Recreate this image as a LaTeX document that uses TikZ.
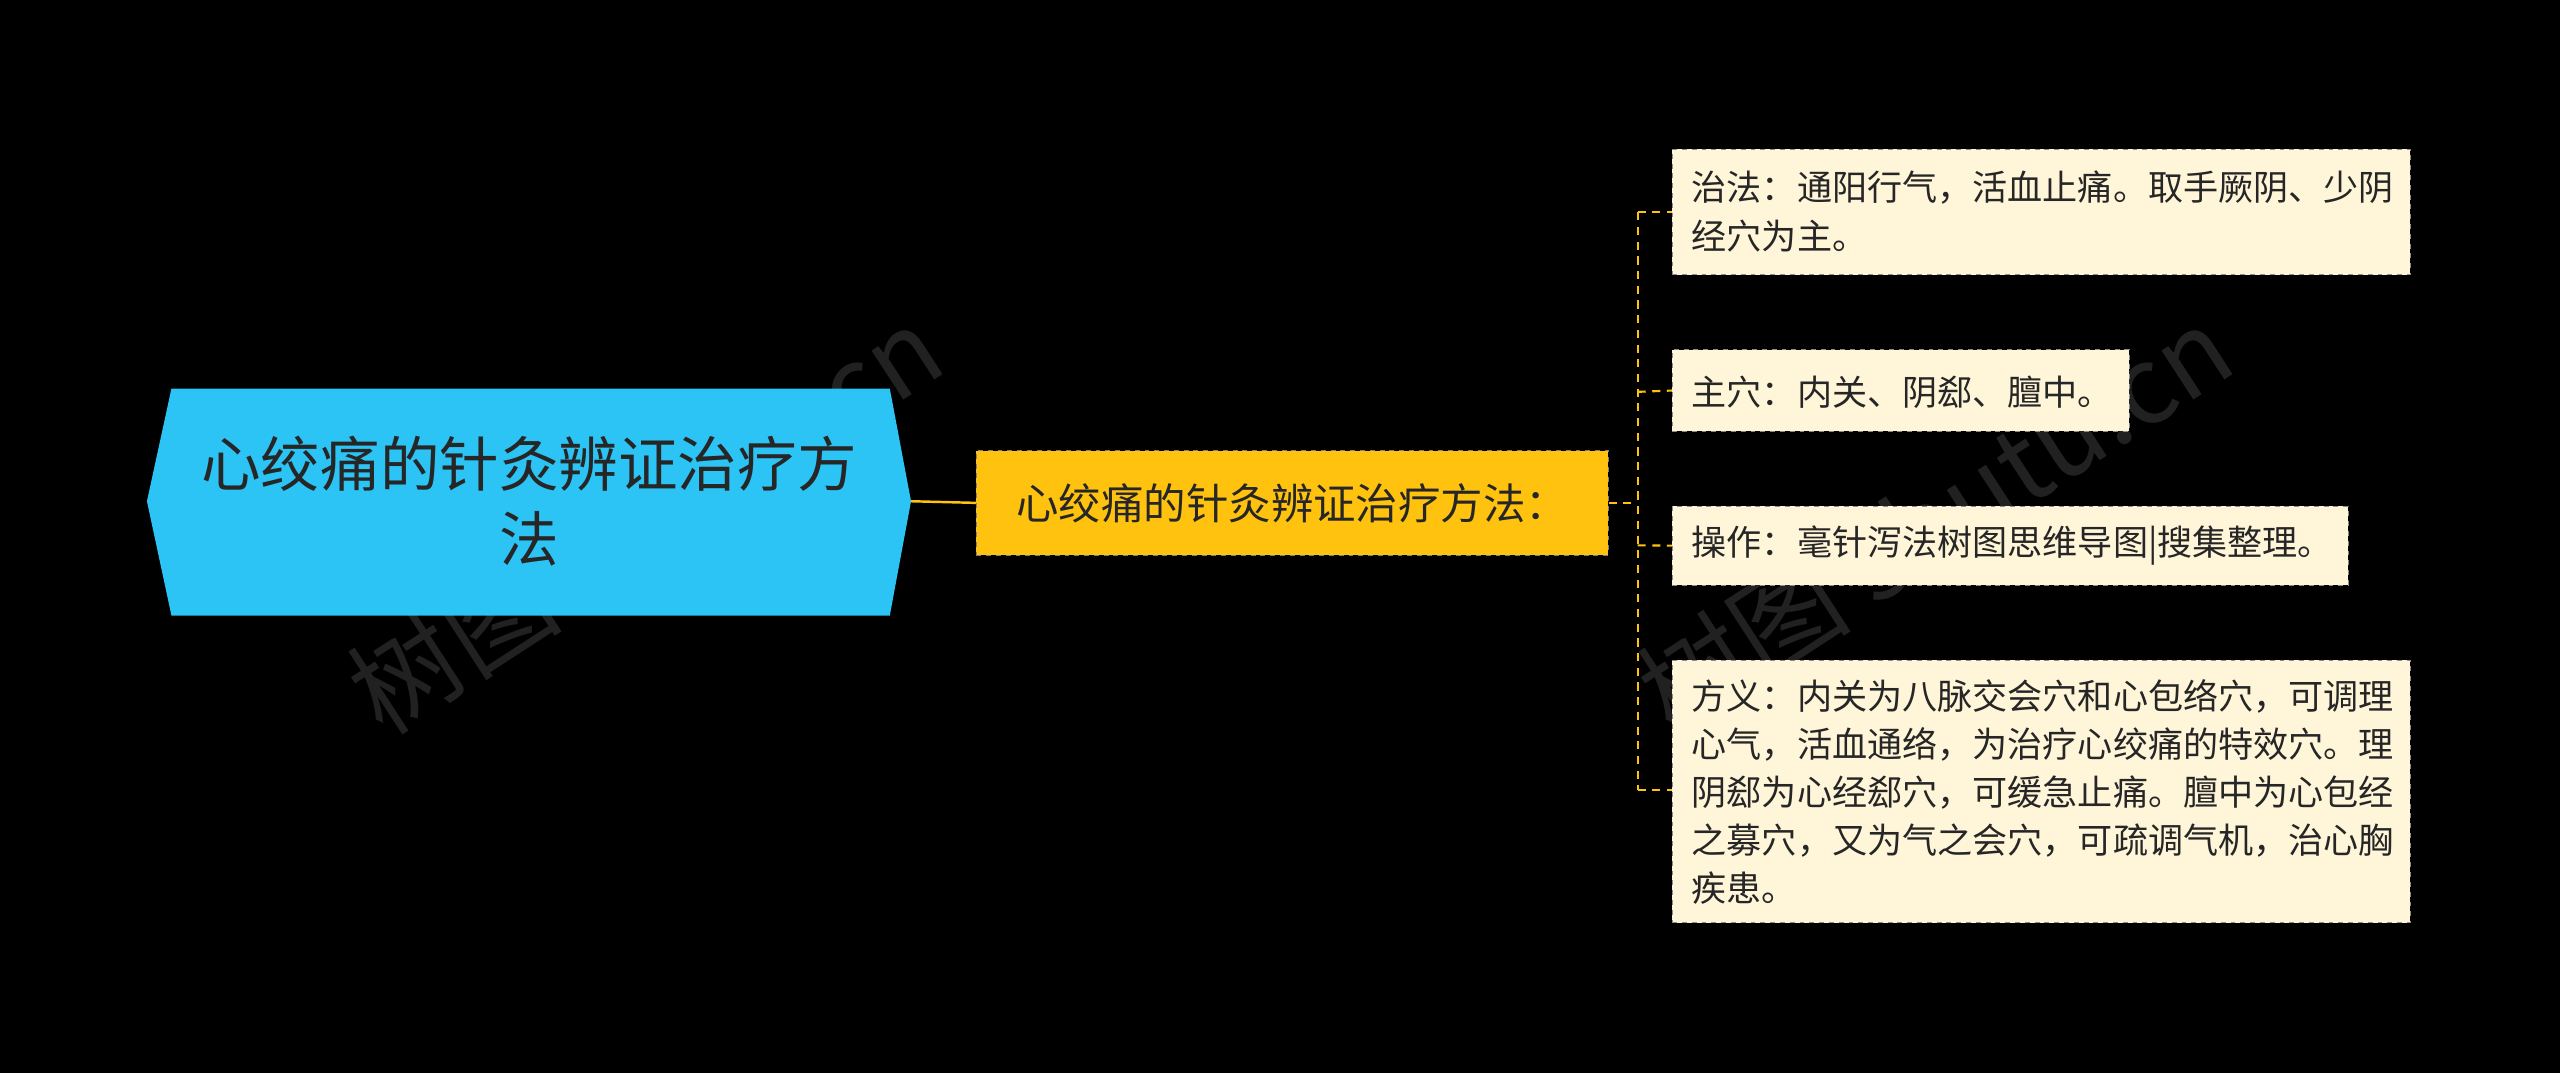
\documentclass[tikz,border=0pt]{standalone}
\usepackage{fontspec}
\setmainfont{Noto Sans CJK SC}
\begin{document}
\begin{tikzpicture}[x=1pt,y=-1pt,
  leaf/.style={draw=black!45,dashed,fill=cream,inner sep=0pt,anchor=north west},
  lt/.style={font=\fontsize{21.5}{29.5}\selectfont,align=left,text=black!85,inner sep=0pt},
  conn/.style={draw=midy,line width=1.3pt,dash pattern=on 5pt off 4pt}]
\definecolor{cream}{HTML}{FFF5D9}
\definecolor{cyanroot}{HTML}{2CC3F5}
\definecolor{midy}{HTML}{FFC20E}
\fill[black] (0,0) rectangle (1568,657);
\useasboundingbox (0,0) rectangle (1568,657);
% watermarks
\node[rotate=33,text=white!13!black,font=\fontsize{66}{66}\selectfont] (w1) at (395,318) {树图 shutu.cn};
\node[rotate=33,text=white!13!black,font=\fontsize{66}{66}\selectfont] (w2) at (1185,318) {树图 shutu.cn};
% root
\path[fill=cyanroot] (105,238) -- (545,238) -- (558,307) -- (545,377) -- (105,377) -- (90,307) -- cycle;
\node[font=\fontsize{36.5}{46}\selectfont,align=center,text=black!85] (root) at (324,307) {心绞痛的针灸辨证治疗方\\法};
\coordinate (rootR) at (558,307);
% middle
\node[draw=black!50,dashed,fill=midy,minimum width=387pt,minimum height=64pt,inner sep=0pt,font=\fontsize{26}{30}\selectfont,text=black!85] (mid) at (791.5,308) {心绞痛的针灸辨证治疗方法：};
\draw[draw=midy,line width=1.5pt] (rootR) -- (mid.west);
% leaves
\node[leaf,minimum width=452pt,minimum height=77pt] (l1) at (1024,91) {};
\node[lt,anchor=west] (t1) at (1036,129.5) {治法：通阳行气，活血止痛。取手厥阴、少阴\\经穴为主。};
\node[leaf,minimum width=280pt,minimum height=50pt] (l2) at (1024,214) {};
\node[lt,anchor=west] (t2) at (1036,240) {主穴：内关、阴郄、膻中。};
\node[leaf,minimum width=414pt,minimum height=48pt] (l3) at (1024,310) {};
\node[lt,anchor=west] (t3) at (1036,334) {操作：毫针泻法树图思维导图|搜集整理。};
\node[leaf,minimum width=452pt,minimum height=161pt] (l4) at (1024,404) {};
\node[lt,anchor=west] (t4) at (1036,485) {方义：内关为八脉交会穴和心包络穴，可调理\\心气，活血通络，为治疗心绞痛的特效穴。理\\阴郄为心经郄穴，可缓急止痛。膻中为心包经\\之募穴，又为气之会穴，可疏调气机，治心胸\\疾患。};
% connectors
\coordinate (j) at (1003,308);
\coordinate (jt) at (1003,130);
\coordinate (jb) at (1003,484);
\draw[conn] (mid.east) -- (j);
\draw[conn] (jt) -- (jb);
\draw[conn] (jt) -- (l1.west |- jt);
\draw[conn] (1003,240) -- (l2.west);
\draw[conn] (1003,334) -- (l3.west);
\draw[conn] (jb) -- (l4.west |- jb);
\end{tikzpicture}
\end{document}
